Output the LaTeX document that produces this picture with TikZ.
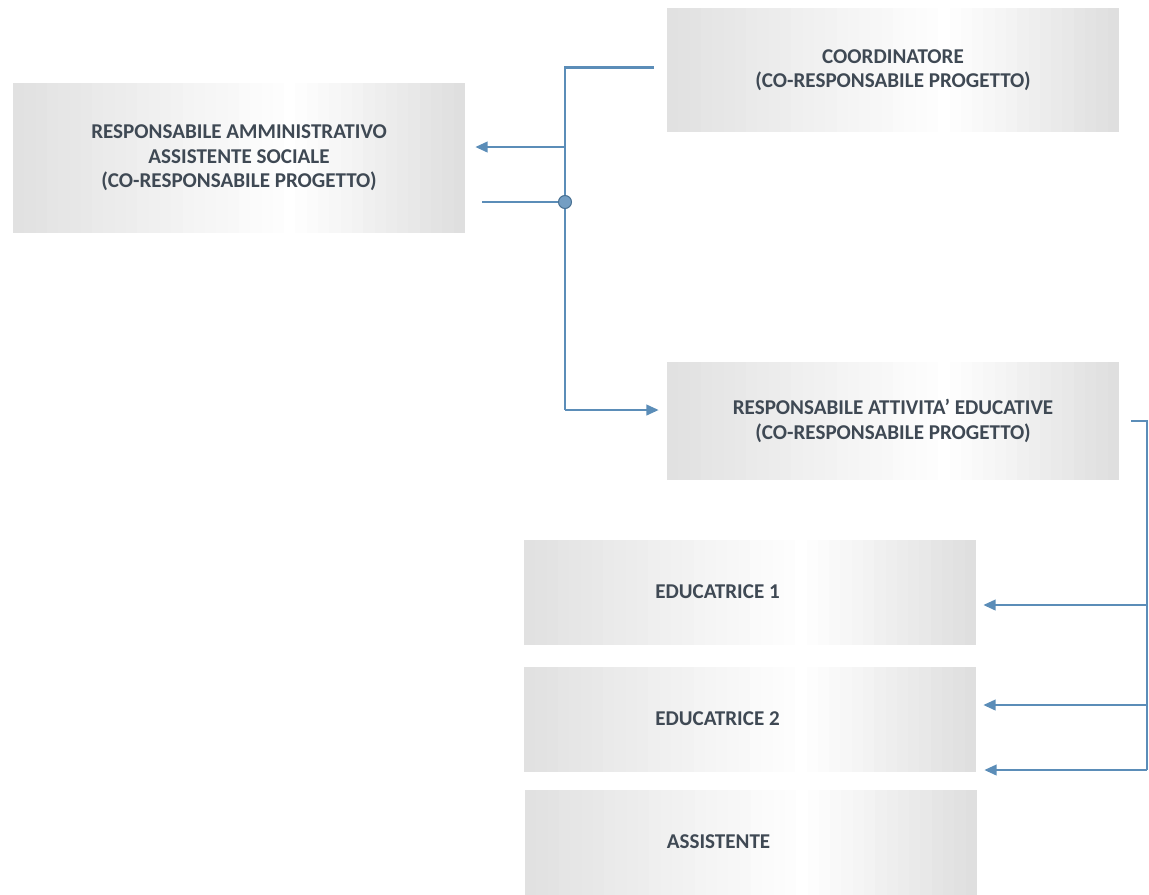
\documentclass[tikz,border=0pt]{standalone}
\usepackage{fontspec}
\setmainfont{Carlito}
\usepackage{tikz}
\usetikzlibrary{arrows.meta, calc}

\definecolor{linkblue}{HTML}{5B8DB8}
\definecolor{boxtext}{HTML}{3F4954}

\tikzset{
    % grey-white-grey band, drawn in strips
    greyband/.style={path picture={
        \coordinate (sw) at (path picture bounding box.south west);
        \coordinate (ne) at (path picture bounding box.north east);
        \foreach \i in {0,...,39} {
            \pgfmathsetmacro\t{(\i+0.5)/40}
            \pgfmathsetmacro\a{\t<0.62 ? 24*(0.62-\t)/0.62 : 26*(\t-0.62)/0.38}
            \fill[gray!\a] ($(sw)!{\i/40}!(ne|-sw)$) rectangle ($(sw|-ne)!{(\i+1.4)/40}!(ne)$);
        }}}
}

\begin{document}
\begin{tikzpicture}[
                x=0.02cm, y=-0.02cm,
                box/.style={rectangle, minimum width=9.04cm, inner sep=0pt, fill=gray!12, greyband,
                    align=center, text=boxtext, font=\bfseries\fontsize{12}{14}\selectfont},
                link/.style={linkblue, line width=1.3pt},
                tip/.style={-{Triangle[length=7pt, width=6pt]}} ]

            \useasboundingbox (0,0) rectangle (1149,894);

            \node[box, minimum height=3cm] (ram) at (239,158)
                {RESPONSABILE AMMINISTRATIVO\\ASSISTENTE SOCIALE\\(CO-RESPONSABILE PROGETTO)};
            \node[box, minimum height=2.5cm] (coord) at (893,70)
                {COORDINATORE\\(CO-RESPONSABILE PROGETTO)};
            \node[box, minimum height=2.36cm] (rae) at (893,421)
                {RESPONSABILE ATTIVITA' EDUCATIVE\\(CO-RESPONSABILE PROGETTO)};
            \node[box, minimum height=2.1cm] (edu1) at (750,592) {EDUCATRICE 1\hspace*{1.3cm}};
            \node[box, minimum height=2.1cm] (edu2) at (750,719) {EDUCATRICE 2\hspace*{1.3cm}};
            \node[box, minimum height=2.1cm] (assist) at (751,842) {ASSISTENTE\hspace*{1.3cm}};

            % left trunk
            \coordinate (mid) at (565,147);
            \coordinate (dot) at (565,202);
            \coordinate (bot) at (565,410);
            \draw[link, shorten <=0.26cm] ([yshift=0.05cm]coord.west) -| (bot);
            \draw[link, tip, shorten >=0.2cm] (mid) -- (mid -| ram.east);
            \draw[linkblue, line width=0.8pt, shorten >=0.34cm] (dot) -- (dot -| ram.east);
            \draw[link, tip, shorten >=0.16cm] (bot) -- (bot -| rae.west);
            \filldraw[draw=linkblue!80!black, fill=linkblue!85, line width=0.6pt] (dot) circle (0.13cm);

            % right trunk
            \coordinate (e1) at (1147,605);
            \coordinate (e2) at (1147,705);
            \coordinate (e3) at (1147,770);
            \draw[link, shorten <=0.24cm] (rae.east) -- (rae.east -| e3) -- (e3);
            \foreach \e/\b in {e1/edu1, e2/edu2, e3/assist} {
                \draw[link, tip, shorten >=0.14cm] (\e) -- (\e -| \b.east);
            }

        \end{tikzpicture}
\end{document}
